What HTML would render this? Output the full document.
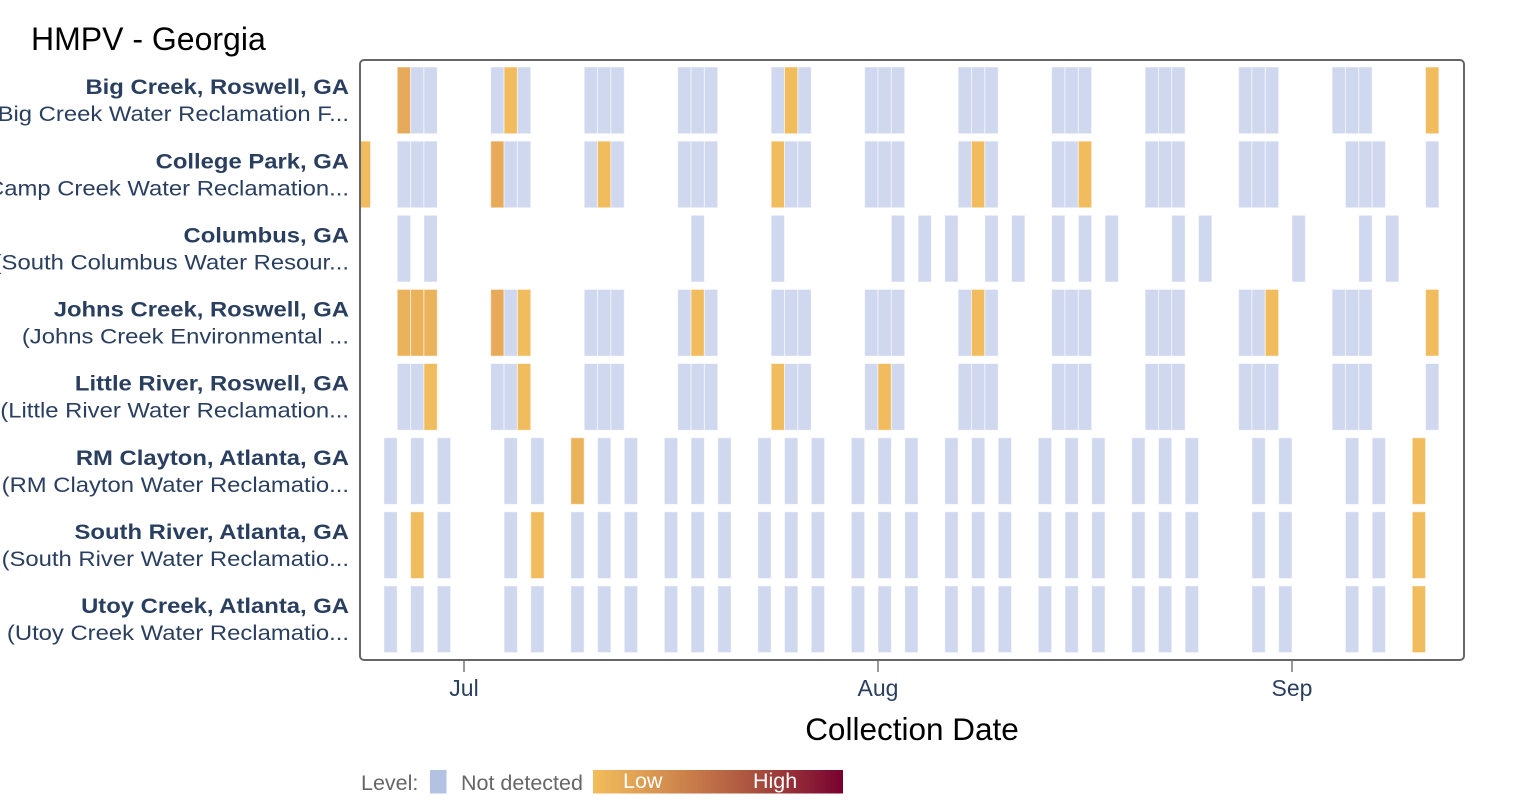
<!DOCTYPE html>
<html>
<head>
<meta charset="utf-8">
<style>
html,body{margin:0;padding:0;background:#fff;}
svg{display:block;font-family:"Liberation Sans",Arial,sans-serif;}
.bars rect{vector-effect:non-scaling-stroke;stroke:rgba(255,255,255,0.55);stroke-width:1;}
.n{fill:#cfd8ee;}
.o{fill:#f1bc5e;}
.d{fill:#e6aa5a;}
.m{fill:#ebb25c;}
.yl text{fill:#2a3f5f;font-size:21.5px;}
.yl .b{font-weight:bold;}
</style>
</head>
<body>
<svg width="1538" height="808" viewBox="0 0 1538 808" xmlns="http://www.w3.org/2000/svg">
<defs>
<clipPath id="clip"><rect x="361" y="61" width="1102" height="598"/></clipPath>
<linearGradient id="grad" x1="0" x2="1" y1="0" y2="0">
<stop offset="0" stop-color="#f2be5c"/>
<stop offset="0.3" stop-color="#d38d4e"/>
<stop offset="0.65" stop-color="#a9503e"/>
<stop offset="1" stop-color="#780030"/>
</linearGradient>
</defs>

<text x="31" y="50" font-size="32" fill="#000">HMPV - Georgia</text>

<g class="bars" clip-path="url(#clip)">
<g transform="translate(464,0) scale(13.355,1)">
<!-- Row 0 Big Creek -->
<g transform="translate(0,67)">
<rect x="-5" width="1" height="66.7" class="d"/><rect x="-4" width="1" height="66.7" class="n"/><rect x="-3" width="1" height="66.7" class="n"/>
<rect x="2" width="1" height="66.7" class="n"/><rect x="3" width="1" height="66.7" class="o"/><rect x="4" width="1" height="66.7" class="n"/>
<rect x="9" width="1" height="66.7" class="n"/><rect x="10" width="1" height="66.7" class="n"/><rect x="11" width="1" height="66.7" class="n"/>
<rect x="16" width="1" height="66.7" class="n"/><rect x="17" width="1" height="66.7" class="n"/><rect x="18" width="1" height="66.7" class="n"/>
<rect x="23" width="1" height="66.7" class="n"/><rect x="24" width="1" height="66.7" class="o"/><rect x="25" width="1" height="66.7" class="n"/>
<rect x="30" width="1" height="66.7" class="n"/><rect x="31" width="1" height="66.7" class="n"/><rect x="32" width="1" height="66.7" class="n"/>
<rect x="37" width="1" height="66.7" class="n"/><rect x="38" width="1" height="66.7" class="n"/><rect x="39" width="1" height="66.7" class="n"/>
<rect x="44" width="1" height="66.7" class="n"/><rect x="45" width="1" height="66.7" class="n"/><rect x="46" width="1" height="66.7" class="n"/>
<rect x="51" width="1" height="66.7" class="n"/><rect x="52" width="1" height="66.7" class="n"/><rect x="53" width="1" height="66.7" class="n"/>
<rect x="58" width="1" height="66.7" class="n"/><rect x="59" width="1" height="66.7" class="n"/><rect x="60" width="1" height="66.7" class="n"/>
<rect x="65" width="1" height="66.7" class="n"/><rect x="66" width="1" height="66.7" class="n"/><rect x="67" width="1" height="66.7" class="n"/>
<rect x="72" width="1" height="66.7" class="o"/>
</g>
<!-- Row 1 College Park -->
<g transform="translate(0,141.1)">
<rect x="-8" width="1" height="66.7" class="o"/>
<rect x="-5" width="1" height="66.7" class="n"/><rect x="-4" width="1" height="66.7" class="n"/><rect x="-3" width="1" height="66.7" class="n"/>
<rect x="2" width="1" height="66.7" class="d"/><rect x="3" width="1" height="66.7" class="n"/><rect x="4" width="1" height="66.7" class="n"/>
<rect x="9" width="1" height="66.7" class="n"/><rect x="10" width="1" height="66.7" class="o"/><rect x="11" width="1" height="66.7" class="n"/>
<rect x="16" width="1" height="66.7" class="n"/><rect x="17" width="1" height="66.7" class="n"/><rect x="18" width="1" height="66.7" class="n"/>
<rect x="23" width="1" height="66.7" class="o"/><rect x="24" width="1" height="66.7" class="n"/><rect x="25" width="1" height="66.7" class="n"/>
<rect x="30" width="1" height="66.7" class="n"/><rect x="31" width="1" height="66.7" class="n"/><rect x="32" width="1" height="66.7" class="n"/>
<rect x="37" width="1" height="66.7" class="n"/><rect x="38" width="1" height="66.7" class="o"/><rect x="39" width="1" height="66.7" class="n"/>
<rect x="44" width="1" height="66.7" class="n"/><rect x="45" width="1" height="66.7" class="n"/><rect x="46" width="1" height="66.7" class="o"/>
<rect x="51" width="1" height="66.7" class="n"/><rect x="52" width="1" height="66.7" class="n"/><rect x="53" width="1" height="66.7" class="n"/>
<rect x="58" width="1" height="66.7" class="n"/><rect x="59" width="1" height="66.7" class="n"/><rect x="60" width="1" height="66.7" class="n"/>
<rect x="66" width="1" height="66.7" class="n"/><rect x="67" width="1" height="66.7" class="n"/><rect x="68" width="1" height="66.7" class="n"/>
<rect x="72" width="1" height="66.7" class="n"/>
</g>
<!-- Row 2 Columbus -->
<g transform="translate(0,215.3)">
<rect x="-5" width="1" height="66.7" class="n"/><rect x="-3" width="1" height="66.7" class="n"/>
<rect x="17" width="1" height="66.7" class="n"/><rect x="23" width="1" height="66.7" class="n"/>
<rect x="32" width="1" height="66.7" class="n"/><rect x="34" width="1" height="66.7" class="n"/><rect x="36" width="1" height="66.7" class="n"/>
<rect x="39" width="1" height="66.7" class="n"/><rect x="41" width="1" height="66.7" class="n"/>
<rect x="44" width="1" height="66.7" class="n"/><rect x="46" width="1" height="66.7" class="n"/><rect x="48" width="1" height="66.7" class="n"/>
<rect x="53" width="1" height="66.7" class="n"/><rect x="55" width="1" height="66.7" class="n"/>
<rect x="62" width="1" height="66.7" class="n"/><rect x="67" width="1" height="66.7" class="n"/><rect x="69" width="1" height="66.7" class="n"/>
</g>
<!-- Row 3 Johns Creek -->
<g transform="translate(0,289.4)">
<rect x="-5" width="1" height="66.7" class="m"/><rect x="-4" width="1" height="66.7" class="m"/><rect x="-3" width="1" height="66.7" class="m"/>
<rect x="2" width="1" height="66.7" class="d"/><rect x="3" width="1" height="66.7" class="n"/><rect x="4" width="1" height="66.7" class="o"/>
<rect x="9" width="1" height="66.7" class="n"/><rect x="10" width="1" height="66.7" class="n"/><rect x="11" width="1" height="66.7" class="n"/>
<rect x="16" width="1" height="66.7" class="n"/><rect x="17" width="1" height="66.7" class="o"/><rect x="18" width="1" height="66.7" class="n"/>
<rect x="23" width="1" height="66.7" class="n"/><rect x="24" width="1" height="66.7" class="n"/><rect x="25" width="1" height="66.7" class="n"/>
<rect x="30" width="1" height="66.7" class="n"/><rect x="31" width="1" height="66.7" class="n"/><rect x="32" width="1" height="66.7" class="n"/>
<rect x="37" width="1" height="66.7" class="n"/><rect x="38" width="1" height="66.7" class="o"/><rect x="39" width="1" height="66.7" class="n"/>
<rect x="44" width="1" height="66.7" class="n"/><rect x="45" width="1" height="66.7" class="n"/><rect x="46" width="1" height="66.7" class="n"/>
<rect x="51" width="1" height="66.7" class="n"/><rect x="52" width="1" height="66.7" class="n"/><rect x="53" width="1" height="66.7" class="n"/>
<rect x="58" width="1" height="66.7" class="n"/><rect x="59" width="1" height="66.7" class="n"/><rect x="60" width="1" height="66.7" class="o"/>
<rect x="65" width="1" height="66.7" class="n"/><rect x="66" width="1" height="66.7" class="n"/><rect x="67" width="1" height="66.7" class="n"/>
<rect x="72" width="1" height="66.7" class="o"/>
</g>
<!-- Row 4 Little River -->
<g transform="translate(0,363.5)">
<rect x="-5" width="1" height="66.7" class="n"/><rect x="-4" width="1" height="66.7" class="n"/><rect x="-3" width="1" height="66.7" class="o"/>
<rect x="2" width="1" height="66.7" class="n"/><rect x="3" width="1" height="66.7" class="n"/><rect x="4" width="1" height="66.7" class="o"/>
<rect x="9" width="1" height="66.7" class="n"/><rect x="10" width="1" height="66.7" class="n"/><rect x="11" width="1" height="66.7" class="n"/>
<rect x="16" width="1" height="66.7" class="n"/><rect x="17" width="1" height="66.7" class="n"/><rect x="18" width="1" height="66.7" class="n"/>
<rect x="23" width="1" height="66.7" class="o"/><rect x="24" width="1" height="66.7" class="n"/><rect x="25" width="1" height="66.7" class="n"/>
<rect x="30" width="1" height="66.7" class="n"/><rect x="31" width="1" height="66.7" class="o"/><rect x="32" width="1" height="66.7" class="n"/>
<rect x="37" width="1" height="66.7" class="n"/><rect x="38" width="1" height="66.7" class="n"/><rect x="39" width="1" height="66.7" class="n"/>
<rect x="44" width="1" height="66.7" class="n"/><rect x="45" width="1" height="66.7" class="n"/><rect x="46" width="1" height="66.7" class="n"/>
<rect x="51" width="1" height="66.7" class="n"/><rect x="52" width="1" height="66.7" class="n"/><rect x="53" width="1" height="66.7" class="n"/>
<rect x="58" width="1" height="66.7" class="n"/><rect x="59" width="1" height="66.7" class="n"/><rect x="60" width="1" height="66.7" class="n"/>
<rect x="65" width="1" height="66.7" class="n"/><rect x="66" width="1" height="66.7" class="n"/><rect x="67" width="1" height="66.7" class="n"/>
<rect x="72" width="1" height="66.7" class="n"/>
</g>
<!-- Row 5 RM Clayton -->
<g transform="translate(0,437.7)">
<rect x="-6" width="1" height="66.7" class="n"/><rect x="-4" width="1" height="66.7" class="n"/><rect x="-2" width="1" height="66.7" class="n"/>
<rect x="3" width="1" height="66.7" class="n"/><rect x="5" width="1" height="66.7" class="n"/>
<rect x="8" width="1" height="66.7" class="m"/><rect x="10" width="1" height="66.7" class="n"/><rect x="12" width="1" height="66.7" class="n"/>
<rect x="15" width="1" height="66.7" class="n"/><rect x="17" width="1" height="66.7" class="n"/><rect x="19" width="1" height="66.7" class="n"/>
<rect x="22" width="1" height="66.7" class="n"/><rect x="24" width="1" height="66.7" class="n"/><rect x="26" width="1" height="66.7" class="n"/>
<rect x="29" width="1" height="66.7" class="n"/><rect x="31" width="1" height="66.7" class="n"/><rect x="33" width="1" height="66.7" class="n"/>
<rect x="36" width="1" height="66.7" class="n"/><rect x="38" width="1" height="66.7" class="n"/><rect x="40" width="1" height="66.7" class="n"/>
<rect x="43" width="1" height="66.7" class="n"/><rect x="45" width="1" height="66.7" class="n"/><rect x="47" width="1" height="66.7" class="n"/>
<rect x="50" width="1" height="66.7" class="n"/><rect x="52" width="1" height="66.7" class="n"/><rect x="54" width="1" height="66.7" class="n"/>
<rect x="59" width="1" height="66.7" class="n"/><rect x="61" width="1" height="66.7" class="n"/>
<rect x="66" width="1" height="66.7" class="n"/><rect x="68" width="1" height="66.7" class="n"/>
<rect x="71" width="1" height="66.7" class="o"/>
</g>
<!-- Row 6 South River -->
<g transform="translate(0,511.8)">
<rect x="-6" width="1" height="66.7" class="n"/><rect x="-4" width="1" height="66.7" class="o"/><rect x="-2" width="1" height="66.7" class="n"/>
<rect x="3" width="1" height="66.7" class="n"/><rect x="5" width="1" height="66.7" class="o"/>
<rect x="8" width="1" height="66.7" class="n"/><rect x="10" width="1" height="66.7" class="n"/><rect x="12" width="1" height="66.7" class="n"/>
<rect x="15" width="1" height="66.7" class="n"/><rect x="17" width="1" height="66.7" class="n"/><rect x="19" width="1" height="66.7" class="n"/>
<rect x="22" width="1" height="66.7" class="n"/><rect x="24" width="1" height="66.7" class="n"/><rect x="26" width="1" height="66.7" class="n"/>
<rect x="29" width="1" height="66.7" class="n"/><rect x="31" width="1" height="66.7" class="n"/><rect x="33" width="1" height="66.7" class="n"/>
<rect x="36" width="1" height="66.7" class="n"/><rect x="38" width="1" height="66.7" class="n"/><rect x="40" width="1" height="66.7" class="n"/>
<rect x="43" width="1" height="66.7" class="n"/><rect x="45" width="1" height="66.7" class="n"/><rect x="47" width="1" height="66.7" class="n"/>
<rect x="50" width="1" height="66.7" class="n"/><rect x="52" width="1" height="66.7" class="n"/><rect x="54" width="1" height="66.7" class="n"/>
<rect x="59" width="1" height="66.7" class="n"/><rect x="61" width="1" height="66.7" class="n"/>
<rect x="66" width="1" height="66.7" class="n"/><rect x="68" width="1" height="66.7" class="n"/>
<rect x="71" width="1" height="66.7" class="o"/>
</g>
<!-- Row 7 Utoy Creek -->
<g transform="translate(0,585.9)">
<rect x="-6" width="1" height="66.7" class="n"/><rect x="-4" width="1" height="66.7" class="n"/><rect x="-2" width="1" height="66.7" class="n"/>
<rect x="3" width="1" height="66.7" class="n"/><rect x="5" width="1" height="66.7" class="n"/>
<rect x="8" width="1" height="66.7" class="n"/><rect x="10" width="1" height="66.7" class="n"/><rect x="12" width="1" height="66.7" class="n"/>
<rect x="15" width="1" height="66.7" class="n"/><rect x="17" width="1" height="66.7" class="n"/><rect x="19" width="1" height="66.7" class="n"/>
<rect x="22" width="1" height="66.7" class="n"/><rect x="24" width="1" height="66.7" class="n"/><rect x="26" width="1" height="66.7" class="n"/>
<rect x="29" width="1" height="66.7" class="n"/><rect x="31" width="1" height="66.7" class="n"/><rect x="33" width="1" height="66.7" class="n"/>
<rect x="36" width="1" height="66.7" class="n"/><rect x="38" width="1" height="66.7" class="n"/><rect x="40" width="1" height="66.7" class="n"/>
<rect x="43" width="1" height="66.7" class="n"/><rect x="45" width="1" height="66.7" class="n"/><rect x="47" width="1" height="66.7" class="n"/>
<rect x="50" width="1" height="66.7" class="n"/><rect x="52" width="1" height="66.7" class="n"/><rect x="54" width="1" height="66.7" class="n"/>
<rect x="59" width="1" height="66.7" class="n"/><rect x="61" width="1" height="66.7" class="n"/>
<rect x="66" width="1" height="66.7" class="n"/><rect x="68" width="1" height="66.7" class="n"/>
<rect x="71" width="1" height="66.7" class="o"/>
</g>
</g>
</g>

<!-- plot border -->
<rect x="360" y="60" width="1104" height="600" rx="4" ry="4" fill="none" stroke="#666" stroke-width="2"/>

<!-- ticks -->
<g stroke="#777" stroke-width="1.5">
<line x1="464" y1="661" x2="464" y2="672"/>
<line x1="878" y1="661" x2="878" y2="672"/>
<line x1="1292" y1="661" x2="1292" y2="672"/>
</g>
<g font-size="23" fill="#2a3f5f" text-anchor="middle">
<text x="464" y="696">Jul</text>
<text x="878" y="696">Aug</text>
<text x="1292" y="696">Sep</text>
</g>
<text x="912" y="740" font-size="31.5" fill="#000" text-anchor="middle">Collection Date</text>

<!-- y labels -->
<g class="yl" transform="translate(349,0) scale(1.109,1)" text-anchor="end">
<text class="b" x="0" y="94.2">Big Creek, Roswell, GA</text>
<text x="0" y="121.2">(Big Creek Water Reclamation F...</text>
<text class="b" x="0" y="168.3">College Park, GA</text>
<text x="0" y="195.3">(Camp Creek Water Reclamation...</text>
<text class="b" x="0" y="242.4">Columbus, GA</text>
<text x="0" y="269.4">(South Columbus Water Resour...</text>
<text class="b" x="0" y="316.5">Johns Creek, Roswell, GA</text>
<text x="0" y="343.5">(Johns Creek Environmental ...</text>
<text class="b" x="0" y="390.7">Little River, Roswell, GA</text>
<text x="0" y="417.7">(Little River Water Reclamation...</text>
<text class="b" x="0" y="464.8">RM Clayton, Atlanta, GA</text>
<text x="0" y="491.8">(RM Clayton Water Reclamatio...</text>
<text class="b" x="0" y="538.9">South River, Atlanta, GA</text>
<text x="0" y="565.9">(South River Water Reclamatio...</text>
<text class="b" x="0" y="613">Utoy Creek, Atlanta, GA</text>
<text x="0" y="640">(Utoy Creek Water Reclamatio...</text>
</g>

<!-- legend -->
<text x="361" y="790" font-size="21.5" fill="#666">Level:</text>
<rect x="430" y="770" width="16.5" height="23.5" fill="#b3c1e3"/>
<text x="461" y="790" font-size="21.5" fill="#666">Not detected</text>
<rect x="593" y="770" width="250" height="23.5" fill="url(#grad)"/>
<text x="623" y="788" font-size="21.5" fill="#fff">Low</text>
<text x="753" y="788" font-size="21.5" fill="#fff">High</text>
</svg>
</body>
</html>
